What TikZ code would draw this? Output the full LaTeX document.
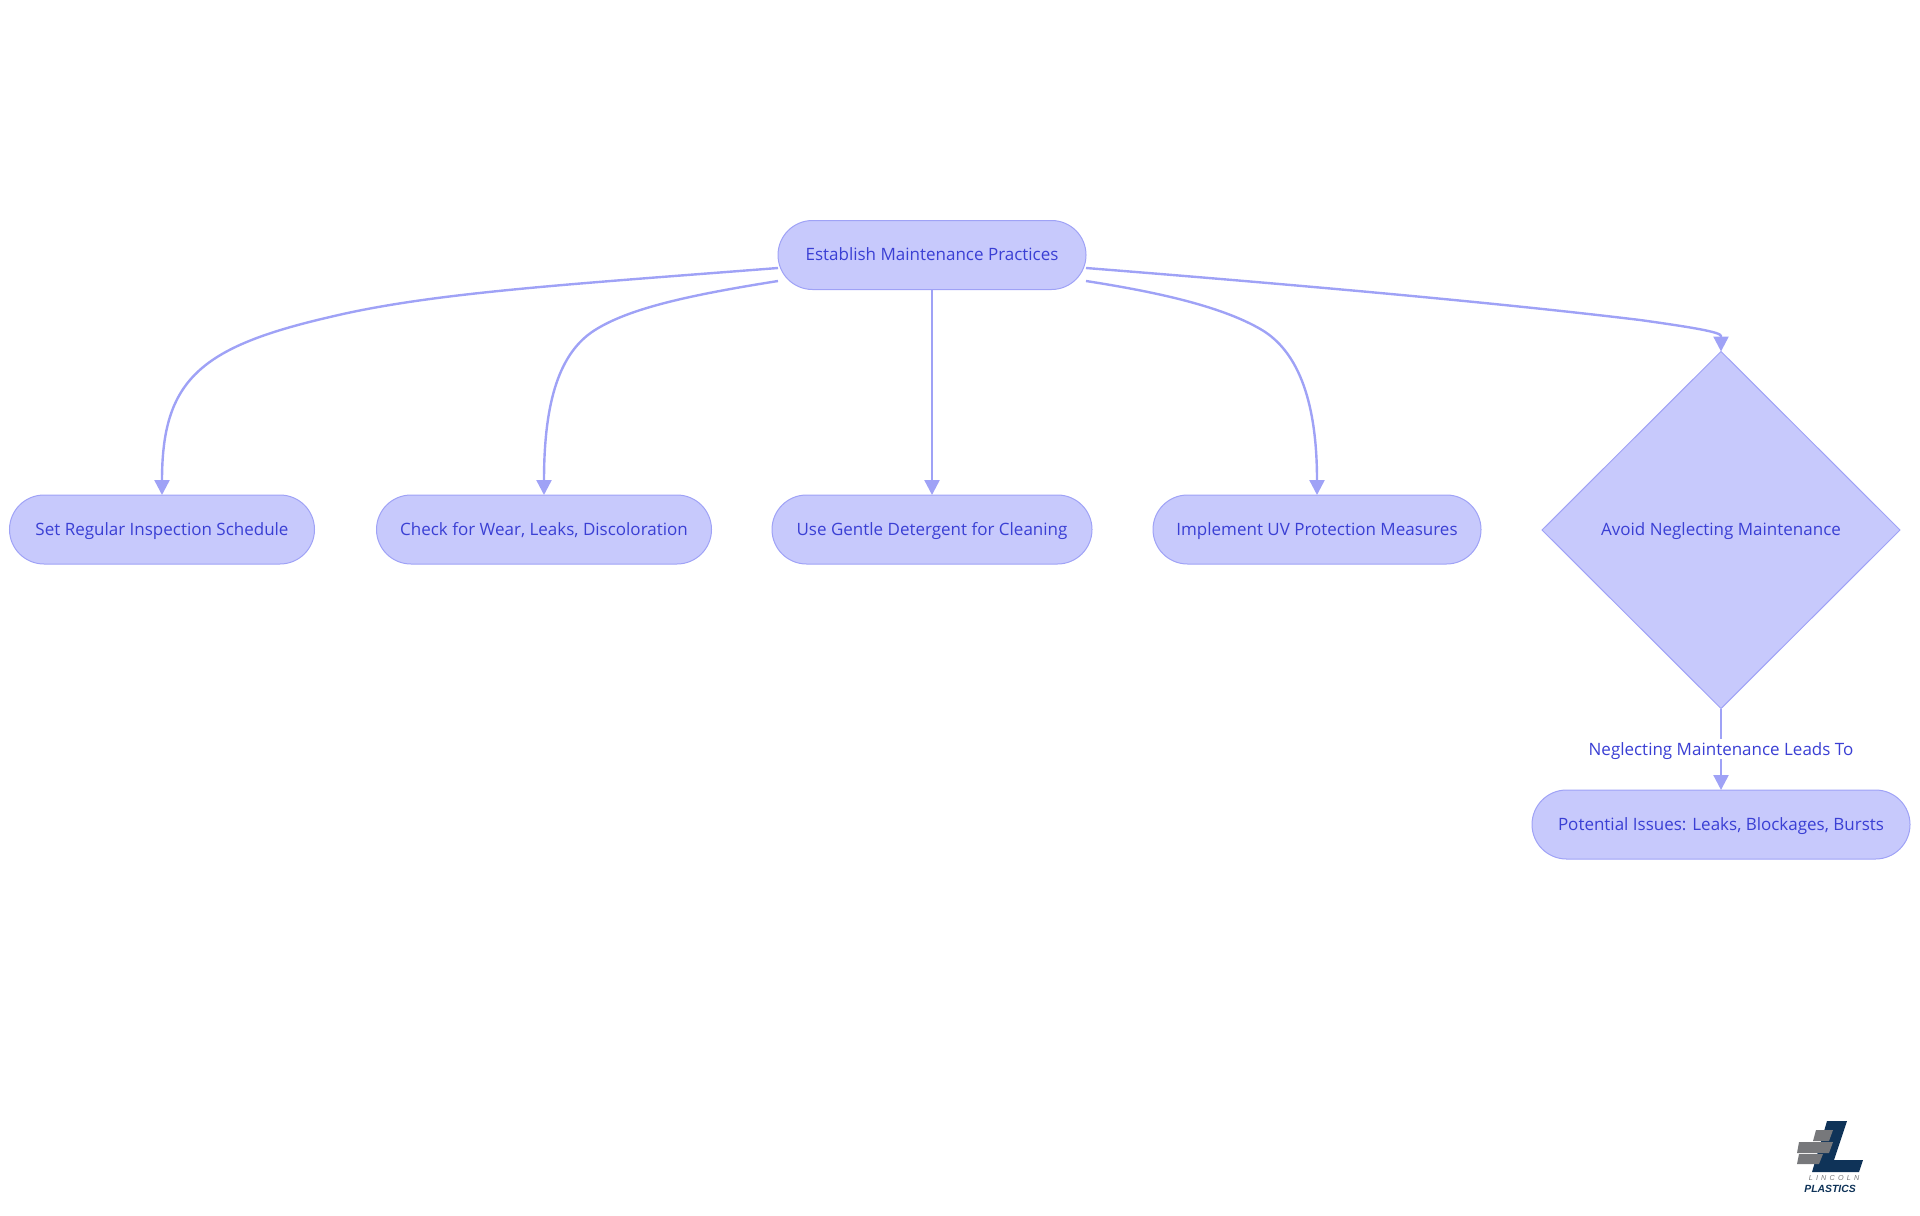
\documentclass[tikz,border=0pt]{standalone}
\usepackage{fontspec}
\setmainfont{Open Sans}
\newfontfamily\logofont{Liberation Sans}
\usetikzlibrary{shapes.geometric,arrows.meta}
\definecolor{flowfill}{HTML}{C7C9FC}
\definecolor{flowline}{HTML}{9FA2F6}
\definecolor{flowtext}{HTML}{3A3FD4}
\definecolor{logoblue}{HTML}{0F3358}
\definecolor{logogray}{HTML}{77787B}
\newcommand{\lsp}{\hspace{1.6pt}}
\tikzset{
  flowfont/.style={text=flowtext,font=\fontsize{8.5}{10}\selectfont,text height=7pt,text depth=1.1pt},
  pill/.style={flowfont,draw=flowline,fill=flowfill,line width=0.5pt,rounded corners=17.25pt,minimum height=34.5pt,inner sep=0pt,outer sep=0pt},
  decide/.style={flowfont,diamond,aspect=1,draw=flowline,fill=flowfill,line width=0.5pt,minimum width=179pt,minimum height=178.5pt,inner sep=0pt,outer sep=0pt},
  link/.style={draw=flowline,line width=1.2pt,-{Triangle[length=7.5pt,width=7.5pt]}}
}
\begin{document}
\begin{tikzpicture}[x=0.5pt,y=-0.5pt]
\useasboundingbox (0,0) rectangle (1920,1215);
\node[pill,minimum width=154pt] (root) at (932,255) {Establish Maintenance Practices};
\node[pill,minimum width=152.5pt] (sched) at (162,529.5) {Set Regular Inspection Schedule};
\node[pill,minimum width=167.5pt] (wear) at (544,529.5) {Check for Wear, Leaks, Discoloration};
\node[pill,minimum width=160pt] (clean) at (932,529.5) {Use Gentle Detergent for Cleaning};
\node[pill,minimum width=164pt] (uv) at (1317,529.5) {Implement UV Protection Measures};
\node[decide] (avoid) at (1721,530) {Avoid Neglecting Maintenance};
\node[pill,minimum width=189pt] (issues) at (1721,824.5) {Potential Issues: Leaks, Blockages, Bursts};

\coordinate (outa) at (778,268);
\coordinate (outb) at (778,281);
\coordinate (outc) at (1086,281);
\coordinate (outd) at (1086,268);
\coordinate (avoidin) at (1721,336);

\draw[link] (outa) .. controls (560,285) and (430,293) .. (330,317) .. controls (200,347) and (162,380) .. (sched.north);
\draw[link] (outb) .. controls (690,295) and (630,308) .. (595,330) .. controls (560,352) and (544,400) .. (wear.north);
\draw[link] (root.south) -- (clean.north);
\draw[link] (outc) .. controls (1150,291) and (1220,305) .. (1262,330) .. controls (1295,350) and (1317,395) .. (uv.north);
\draw[link] (outd) .. controls (1300,285) and (1500,303) .. (1640,320) .. controls (1690,327) and (1721,332) .. (avoidin) -- (avoid.north);
\draw[link] (avoid.south) -- node[flowfont,fill=white,inner sep=1pt] (leads) {Neglecting Maintenance Leads To} (issues.north);

\fill[logoblue] (1827,1121) -- (1847,1121) -- (1834,1160) -- (1863,1160) -- (1859,1172) -- (1812,1172) -- cycle;
\fill[logogray] (1816,1130) -- (1833,1130) -- (1829,1141) -- (1813,1141) -- cycle;
\fill[logogray] (1799,1142) -- (1833,1142) -- (1829,1153) -- (1797,1153) -- cycle;
\fill[logogray] (1799,1154) -- (1823,1154) -- (1819,1164) -- (1797,1164) -- cycle;
\node[text=logogray,inner sep=0pt,font=\logofont\fontsize{3.6}{4}\selectfont\itshape] (logoa) at (1834,1178) {L\lsp I\lsp N\lsp C\lsp O\lsp L\lsp N};
\node[text=logoblue,inner sep=0pt,font=\logofont\fontsize{5.2}{6}\selectfont\bfseries\itshape] (logob) at (1830,1189) {PLASTICS};
\end{tikzpicture}
\end{document}
